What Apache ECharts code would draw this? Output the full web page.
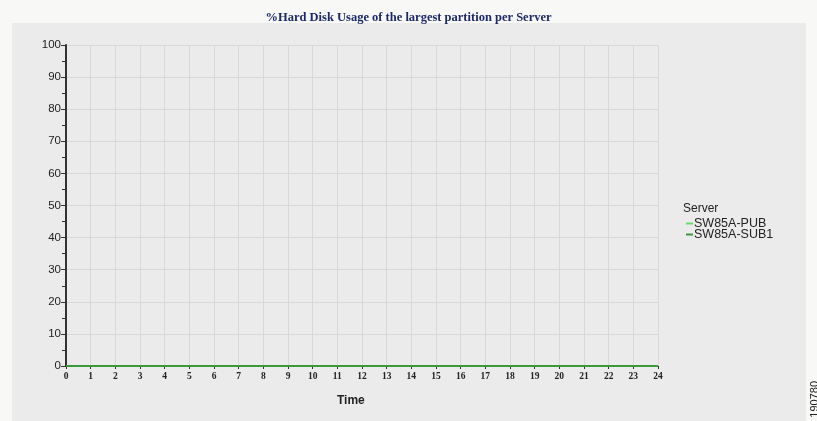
<!DOCTYPE html>
<html><head><meta charset="utf-8">
<script src="https://cdn.jsdelivr.net/npm/echarts@6/dist/echarts.min.js"></script>
<style>html,body{margin:0;padding:0;background:#fff}#c{width:817px;height:421px}</style>
</head><body><div id="c"></div>
<script>
const hours = [0,1,2,3,4,5,6,7,8,9,10,11,12,13,14,15,16,17,18,19,20,21,22,23,24];
const pubValues = [0,0,0,0,0,0,0,0,0,0,0,0,0,0,0,0,0,0,0,0,0,0,0,0,0];
const sub1Values = [0,0,0,0,0,0,0,0,0,0,0,0,0,0,0,0,0,0,0,0,0,0,0,0,0];
const seriesNames = ['SW85A-PUB','SW85A-SUB1'];
const titleText = '%Hard Disk Usage of the largest partition per Server';

const chart = echarts.init(document.getElementById('c'));
chart.setOption({
  backgroundColor:'#f8f8f6',
  animation:false,
  title:{text:titleText,left:'center',top:6,textStyle:{fontFamily:'Liberation Serif',fontWeight:'bold',fontSize:12.5,color:'#1c2a6b'}},
  graphic:[
    {type:'rect',z:-10,shape:{x:12,y:23,width:794,height:400},style:{fill:'#ebebeb'}},
    {type:'text',left:683,top:203,style:{text:'Server',font:'12px Liberation Sans',fill:'#222'}},
    {type:'text',x:337,y:395,style:{text:'Time',font:'bold 12px Liberation Sans',fill:'#222'}},
    {type:'text',x:809,y:381,rotation:Math.PI/2,style:{text:'190780',font:'11px Liberation Sans',fill:'#222',align:'right',verticalAlign:'top'}}
  ],
  legend:{orient:'vertical',left:681,top:212,itemWidth:7,itemHeight:2,itemGap:-2,icon:'rect',
    textStyle:{fontFamily:'Liberation Sans',fontSize:12.5,color:'#222',padding:[0,0,0,-4]},data:seriesNames},
  grid:{left:66,right:159,top:45,bottom:55},
  xAxis:{type:'value',min:0,max:24,interval:1,
    axisLine:{show:true,lineStyle:{color:'#333',width:1}},
    axisTick:{show:true,inside:false,length:3,lineStyle:{color:'#333'}},
    axisLabel:{fontFamily:'Liberation Serif',fontWeight:'bold',fontSize:9.5,color:'#222',margin:6},
    splitLine:{show:true,lineStyle:{color:'#d8d8d8'}}},
  yAxis:{type:'value',min:0,max:100,interval:10,
    axisLine:{show:true,lineStyle:{color:'#333',width:2}},
    axisTick:{show:true,length:5,lineStyle:{color:'#333'}},
    minorTick:{show:true,splitNumber:2,length:4,lineStyle:{color:'#333'}},
    axisLabel:{fontFamily:'Liberation Sans',fontSize:11.5,color:'#222',margin:5},
    splitLine:{show:true,lineStyle:{color:'#d8d8d8'}}},
  series:[
    {name:seriesNames[0],type:'line',showSymbol:false,color:'#66dd66',lineStyle:{width:2},data:hours.map((h,i)=>[h,pubValues[i]])},
    {name:seriesNames[1],type:'line',showSymbol:false,color:'#3a9a3a',lineStyle:{width:2},data:hours.map((h,i)=>[h,sub1Values[i]])}
  ]
});
</script></body></html>
